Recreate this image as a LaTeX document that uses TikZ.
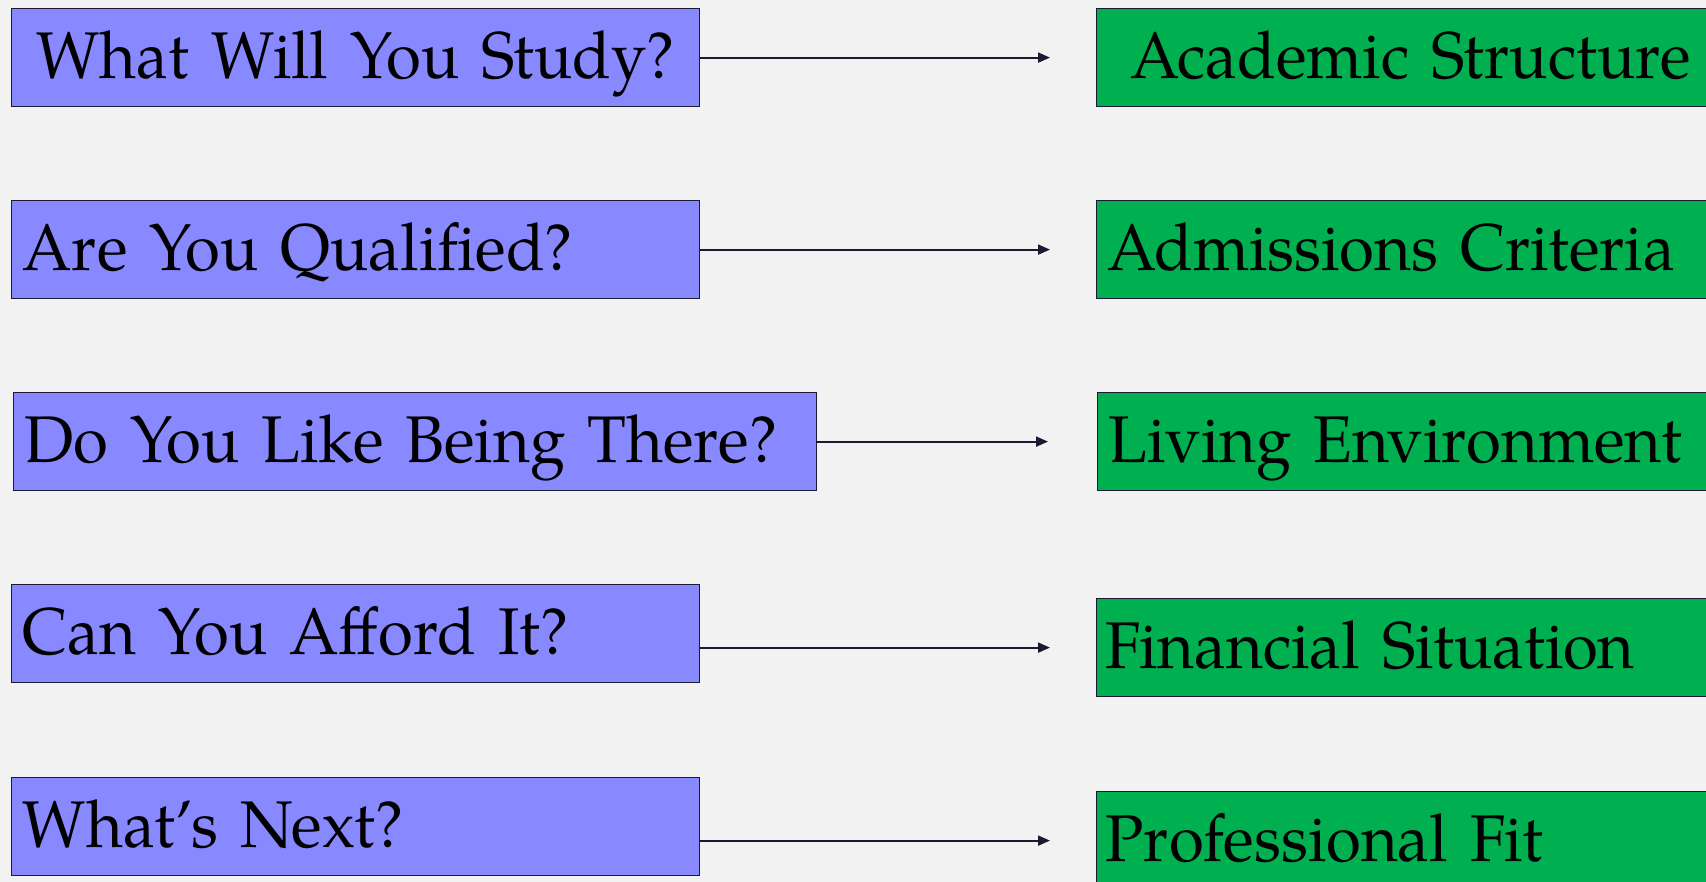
\documentclass[tikz,border=0pt]{standalone}
\usepackage{fontspec}
\setmainfont[FakeStretch=0.962]{TeX Gyre Pagella}
\usetikzlibrary{arrows.meta}
\definecolor{bg}{HTML}{F2F2F2}
\definecolor{qblue}{HTML}{8888FF}
\definecolor{agreen}{HTML}{00B050}
\definecolor{edge}{HTML}{1A1A33}
\tikzset{
  x=1pt, y=-1pt,
  boxbase/.style={draw=edge, line width=1.2pt, anchor=north west, inner ysep=0pt,
    minimum height=98pt, text height=46pt, text depth=4pt,
    font=\fontsize{66}{70}\selectfont, align=left},
  qbox/.style={boxbase, fill=qblue},
  abox/.style={boxbase, fill=agreen},
  link/.style={draw=edge, line width=2pt, -{Triangle[length=12pt,width=10pt]}},
}
\begin{document}
\begin{tikzpicture}
\useasboundingbox (0,0) rectangle (1706,882);
\fill[bg] (0,0) rectangle (1706,882);
\clip (0,0) rectangle (1706,882);
% left boxes
\node[qbox, minimum width=688pt, text width=688pt, inner xsep=0pt, align=center] (q1) at (11,8) {What Will You Study?};
\node[qbox, minimum width=688pt, text width=666pt, inner xsep=11pt] (q2) at (11,200) {Are You Qualified?};
\node[qbox, minimum width=803pt, text width=781pt, inner xsep=11pt] (q3) at (13,392) {Do You Like Being There?};
\node[qbox, minimum width=688pt, text width=666pt, inner xsep=11pt] (q4) at (11,584) {Can You Afford It?};
\node[qbox, minimum width=688pt, text width=666pt, inner xsep=11pt] (q5) at (11,777) {What’s Next?};
% right boxes
\node[abox, minimum width=640pt, text width=606pt, inner xsep=34pt] (a1) at (1096,8) {Academic Structure};
\node[abox, minimum width=640pt, text width=628pt, inner xsep=11pt] (a2) at (1096,200) {Admissions Criteria};
\node[abox, minimum width=640pt, text width=628pt, inner xsep=11pt] (a3) at (1097,392) {Living Environment};
\node[abox, minimum width=640pt, text width=628pt, inner xsep=9pt] (a4) at (1096,598) {Financial Situation};
\node[abox, minimum width=640pt, text width=628pt, inner xsep=9pt] (a5) at (1096,791) {Professional Fit};
% arrow tips
\coordinate (t1) at (1050,0 |- a1.west);
\coordinate (t2) at (1050,0 |- a2.west);
\coordinate (t3) at (1048,0 |- a3.west);
\coordinate (t4) at (1050,0 |- a4.west);
\coordinate (t5) at (1050,0 |- a5.west);
\draw[link] (q1.east |- a1.west) -- (t1);
\draw[link] (q2.east |- a2.west) -- (t2);
\draw[link] (q3.east |- a3.west) -- (t3);
\draw[link] (q4.east |- a4.west) -- (t4);
\draw[link] (q5.east |- a5.west) -- (t5);
\end{tikzpicture}
\end{document}
